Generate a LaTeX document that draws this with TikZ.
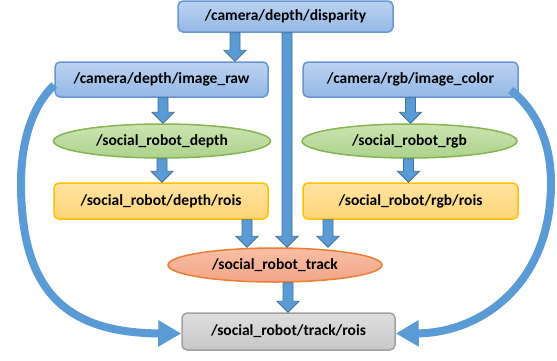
\documentclass[tikz,border=0pt]{standalone}
\usepackage{fontspec}
\setmainfont{Carlito}
\usetikzlibrary{arrows.meta,shapes.geometric,calc}
\definecolor{bluetop}{RGB}{188,210,240}
\definecolor{bluebot}{RGB}{148,184,229}
\definecolor{blueline}{RGB}{104,150,212}
\definecolor{greentop}{RGB}{205,228,178}
\definecolor{greenbot}{RGB}{172,210,140}
\definecolor{greenline}{RGB}{134,180,80}
\definecolor{yeltop}{RGB}{255,228,160}
\definecolor{yelbot}{RGB}{255,212,120}
\definecolor{yelline}{RGB}{255,192,0}
\definecolor{orgtop}{RGB}{248,190,165}
\definecolor{orgbot}{RGB}{242,165,135}
\definecolor{orgline}{RGB}{237,125,49}
\definecolor{graytop}{RGB}{222,222,222}
\definecolor{graybot}{RGB}{200,200,200}
\definecolor{grayline}{RGB}{160,160,160}
\definecolor{arrfill}{RGB}{91,155,213}
\definecolor{arrline}{RGB}{65,113,156}
\tikzset{
  base/.style={font=\bfseries\fontsize{15.5}{18}\selectfont, line width=1.5pt, inner sep=0pt, text=black},
  bluebox/.style={base, rectangle, rounded corners=5pt, draw=blueline, top color=bluetop, bottom color=bluebot},
  greenell/.style={base, ellipse, draw=greenline, top color=greentop, bottom color=greenbot},
  yelbox/.style={base, rectangle, rounded corners=5pt, draw=yelline, top color=yeltop, bottom color=yelbot},
  orgell/.style={base, ellipse, draw=orgline, top color=orgtop, bottom color=orgbot},
  graybox/.style={base, rectangle, rounded corners=5pt, draw=grayline, top color=graytop, bottom color=graybot},
  barrowstyle/.style={fill=arrfill, draw=arrline, line width=0.8pt},
  bigarrow/.style={draw=arrfill, line width=8pt, -{Triangle[length=23pt,width=25pt]}}
}
\newcommand\barrow[2]{\path[barrowstyle] let \p1=#1, \p2=#2 in
  (\x1-5pt,\y1) -- (\x1-5pt,\y2+11pt) -- (\x1-11pt,\y2+11pt) -- (\x1,\y2)
  -- (\x1+11pt,\y2+11pt) -- (\x1+5pt,\y2+11pt) -- (\x1+5pt,\y1) -- cycle;}
\begin{document}
\begin{tikzpicture}[x=1pt,y=-1pt]
\useasboundingbox (0,0) rectangle (557,360);
\node[bluebox, minimum width=215pt, minimum height=31pt] (top) at (285.5,16.5) {/camera/depth/disparity};
\node[bluebox, minimum width=213pt, minimum height=35pt] (raw) at (161.5,79.5) {/camera/depth/image\_raw};
\node[bluebox, minimum width=215pt, minimum height=35pt] (color) at (410.5,79.5) {/camera/rgb/image\_color};
\node[greenell, minimum width=217pt, minimum height=34pt] (depth) at (162,141) {/social\_robot\_depth};
\node[greenell, minimum width=215pt, minimum height=34pt] (rgb) at (409.5,141) {/social\_robot\_rgb};
\node[yelbox, minimum width=214pt, minimum height=36pt] (drois) at (161,201) {/social\_robot/depth/rois};
\node[yelbox, minimum width=215pt, minimum height=36pt] (rrois) at (410.5,201) {/social\_robot/rgb/rois};
\node[orgell, minimum width=214pt, minimum height=34pt] (track) at (275,265) {/social\_robot\_track};
\node[graybox, minimum width=213pt, minimum height=37pt] (trois) at (288.5,331.5) {/social\_robot/track/rois};

\barrow{([xshift=-50.5pt]top.south)}{(raw.north)}
\barrow{([xshift=1.5pt]top.south)}{(track.north)}
\barrow{([xshift=1.5pt]raw.south)}{(depth.north)}
\barrow{(depth.south)}{(drois.north)}
\barrow{(color.south)}{(rgb.north)}
\barrow{([xshift=-1pt]rgb.south)}{(rrois.north)}
\barrow{([xshift=86pt]drois.south)}{(track.north)}
\barrow{([xshift=-82.5pt]rrois.south)}{(track.north)}
\barrow{([xshift=13pt]track.south)}{(trois.north)}

\draw[bigarrow] ([yshift=-5.5pt]raw.west) .. controls (33,105) and (21,140) .. (21,183)
  .. controls (21,285) and (60,333) .. ([yshift=-2pt]trois.west);
\draw[bigarrow] ([xshift=-8pt,yshift=-10.5pt]color.east) .. controls (538,112) and (551,145) .. (551,183)
  .. controls (551,285) and (480,333) .. ([yshift=-2pt]trois.east);
\end{tikzpicture}
\end{document}
